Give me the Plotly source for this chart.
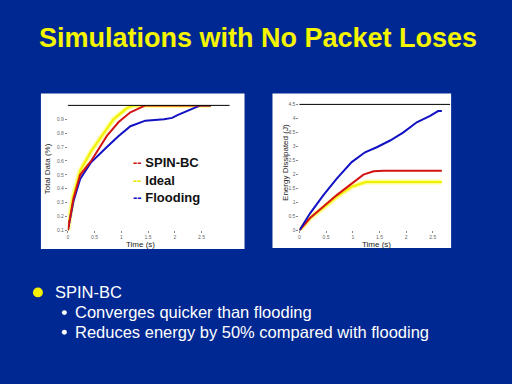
import plotly.graph_objects as go

# Left chart: Total Data (%) vs Time (s)
ideal_t = [0, 0.08, 0.18, 0.275, 0.46, 0.87, 1.34, 1.71, 2.21, 2.46, 5.35]
ideal_d = [0.1, 0.22, 0.33, 0.40, 0.53, 0.67, 0.80, 0.90, 0.98, 1.0, 1.0]
spin_t = [0, 0.1, 0.21, 0.46, 0.87, 1.46, 1.9, 2.34, 2.9, 5.35]
spin_d = [0.1, 0.22, 0.33, 0.50, 0.60, 0.78, 0.88, 0.95, 1.0, 1.0]
flood_t = [0, 0.1, 0.21, 0.46, 0.87, 1.46, 1.9, 2.34, 2.6, 2.9, 3.6, 3.9, 4.1, 4.7, 4.96, 5.35]
flood_d = [0.1, 0.2, 0.31, 0.47, 0.59, 0.70, 0.78, 0.85, 0.87, 0.89, 0.90, 0.91, 0.93, 0.98, 1.0, 1.0]

# Right chart: Energy Dissipated (J) vs Time (s)
e_flood_t = [0, 0.4, 0.9, 1.4, 1.96, 2.46, 2.9, 3.4, 3.9, 4.4, 4.9, 5.2, 5.34]
e_flood = [0, 0.61, 1.26, 1.85, 2.44, 2.79, 2.97, 3.21, 3.50, 3.86, 4.09, 4.26, 4.26]
e_spin_t = [0, 0.4, 0.9, 1.4, 1.96, 2.4, 2.78, 3.15, 5.34]
e_spin = [0, 0.44, 0.85, 1.26, 1.67, 1.99, 2.11, 2.13, 2.13]
e_ideal_t = [0, 0.4, 0.9, 1.4, 1.96, 2.5, 5.34]
e_ideal = [0, 0.44, 0.81, 1.20, 1.56, 1.73, 1.73]

x_ticks = [0, 1, 2, 3, 4, 5]
x_labels = ["0", "0.5", "1", "1.5", "2", "2.5"]
left_y_ticks = [0.1, 0.2, 0.3, 0.4, 0.5, 0.6, 0.7, 0.8, 0.9]
right_y_ticks = [0, 0.5, 1, 1.5, 2, 2.5, 3, 3.5, 4, 4.5]

BG = "#002893"
BLUE = "#1212c4"
RED = "#d41414"
YEL = "#f2f000"
HALO = "#ffff9a"

fig = go.Figure()

def add_line(x, y, color, xa, ya, halo=False):
    if halo:
        fig.add_trace(go.Scatter(x=x, y=y, mode="lines", xaxis=xa, yaxis=ya,
                                 line=dict(color=HALO, width=5), hoverinfo="skip", showlegend=False))
    fig.add_trace(go.Scatter(x=x, y=y, mode="lines", xaxis=xa, yaxis=ya,
                             line=dict(color=color, width=2), showlegend=False))

add_line(ideal_t, ideal_d, YEL, "x", "y", halo=True)
add_line(flood_t, flood_d, BLUE, "x", "y")
add_line(spin_t, spin_d, RED, "x", "y")

add_line(e_ideal_t, e_ideal, YEL, "x2", "y2", halo=True)
add_line(e_spin_t, e_spin, RED, "x2", "y2")
add_line(e_flood_t, e_flood, BLUE, "x2", "y2")

W, H = 512, 384
def px(v): return v / W
def py(v): return 1 - v / H

tickfont = dict(family="Liberation Sans, Arial", size=5, color="#666666")
axis_common = dict(showgrid=False, zeroline=False, showline=False, ticks="outside",
                   ticklen=2, tickcolor="#888888", tickfont=tickfont)

fig.update_layout(
    width=W, height=H,
    margin=dict(l=0, r=0, t=0, b=0),
    paper_bgcolor=BG, plot_bgcolor="white",
    showlegend=False,
    xaxis=dict(domain=[px(67), px(229)], range=[0, 6.05], tickvals=x_ticks, ticktext=x_labels,
               anchor="y", **axis_common),
    yaxis=dict(domain=[py(231), py(104)], range=[0.1, 1.0], tickvals=left_y_ticks,
               anchor="x", **axis_common),
    xaxis2=dict(domain=[px(299), px(450)], range=[0, 5.65], tickvals=x_ticks, ticktext=x_labels,
                anchor="y2", **axis_common),
    yaxis2=dict(domain=[py(231), py(103)], range=[0, 4.5], tickvals=right_y_ticks,
                anchor="x2", **axis_common),
)

shapes = [
    dict(type="rect", xref="paper", yref="paper", x0=px(40), x1=px(244), y0=py(250), y1=py(92),
         fillcolor="white", line=dict(width=0), layer="below"),
    dict(type="rect", xref="paper", yref="paper", x0=px(272), x1=px(451), y0=py(249), y1=py(92),
         fillcolor="white", line=dict(width=0), layer="below"),
    dict(type="line", xref="paper", yref="paper", x0=px(67), x1=px(229), y0=py(104), y1=py(104),
         line=dict(color="black", width=1)),
    dict(type="line", xref="paper", yref="paper", x0=px(299), x1=px(450), y0=py(103), y1=py(103),
         line=dict(color="black", width=1)),
    dict(type="circle", xref="paper", yref="paper", x0=px(32), x1=px(42), y0=py(299), y1=py(289),
         fillcolor="#f5f000", line=dict(width=0)),
    dict(type="circle", xref="paper", yref="paper", x0=px(61), x1=px(66), y0=py(317), y1=py(312),
         fillcolor="white", line=dict(width=0)),
    dict(type="circle", xref="paper", yref="paper", x0=px(61), x1=px(66), y0=py(337), y1=py(332),
         fillcolor="white", line=dict(width=0)),
]
fig.update_layout(shapes=shapes)

ann = []
def text(x, y, s, size, color, bold=False, xanchor="left", angle=0, family="Liberation Sans, Arial"):
    ann.append(dict(xref="paper", yref="paper", x=px(x), y=py(y), text=("<b>%s</b>" % s) if bold else s,
                    showarrow=False, xanchor=xanchor, yanchor="middle", textangle=angle,
                    font=dict(family=family, size=size, color=color)))

text(258, 36, "Simulations with No Packet Loses", 27, "#f5f500", bold=True, xanchor="center")
text(52, 294, "SPIN-BC", 16.5, "white")
text(72, 314, "Converges quicker than flooding", 16.5, "white")
text(72, 334, "Reduces energy by 50% compared with flooding", 16.5, "white")

legend_rows = [("SPIN-BC", RED, 162), ("Ideal", "#e8e800", 180), ("Flooding", BLUE, 198)]
for name, col, yy in legend_rows:
    text(130, yy, "<span style='color:%s'>--</span> %s" % (col, name), 13, "#111111", bold=True)

text(46, 168, "Total Data (%)", 8, "#222222", angle=-90, xanchor="center")
text(140, 245, "Time (s)", 8, "#222222", xanchor="center")
text(285, 162, "Energy Dissipated (J)", 8, "#222222", angle=-90, xanchor="center")
text(376, 245, "Time (s)", 8, "#222222", xanchor="center")

fig.update_layout(annotations=ann)
fig.write_html("out.html", config={"displayModeBar": False},
               post_script="document.body.style.margin='0';document.body.style.overflow='hidden';")
